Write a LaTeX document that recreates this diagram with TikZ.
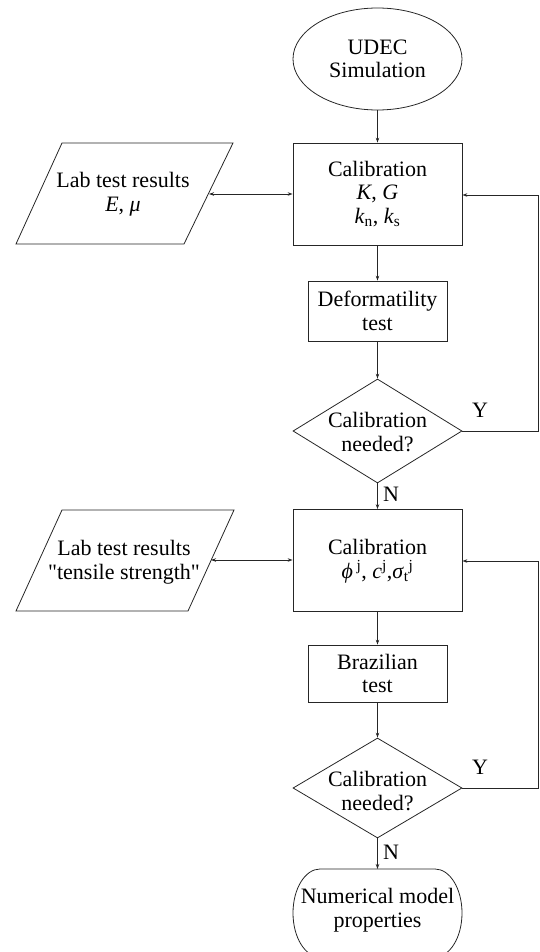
\documentclass[tikz,border=0pt]{standalone}
\usepackage{fontspec}
\setmainfont{Liberation Serif}
\usetikzlibrary{shapes.geometric,arrows.meta}
\begin{document}
\begin{tikzpicture}[x=1pt,y=-1pt,
  every node/.style={font=\fontsize{22}{23.5}\selectfont, align=center, inner sep=0pt},
  line/.style={line width=0.8pt, draw=black!85},
  arr/.style={line, -{Stealth[length=5pt,width=3.5pt]}},
  darr/.style={line, {Stealth[length=5pt,width=3.5pt]}-{Stealth[length=5pt,width=3.5pt]}},
  bigbox/.style={line, rectangle, minimum width=169pt, minimum height=102pt},
  smallbox/.style={line, rectangle, minimum width=139pt, minimum height=60pt},
  decision/.style={line, diamond, minimum width=169pt, minimum height=104pt},
  startnode/.style={line, ellipse, minimum width=169pt, minimum height=102pt},
  lbl/.style={font=\fontsize{22}{23.5}\selectfont}
]
\useasboundingbox (0,0) rectangle (539,952);

% start
\node[startnode] (start) at (377.5,59) {UDEC\\Simulation};

% calibration 1
\node[bigbox] (cal1) at (377.5,194) {Calibration\\\textit{K}, \textit{G}\\\textit{k}\textsubscript{n}, \textit{k}\textsubscript{s}};

% lab 1 parallelogram
\draw[line] (62,143) -- (233,143) -- (184,244) -- (16,244) -- cycle;
\coordinate (lab1r) at (209,194);
\node (lab1) at (123,194) {Lab test results\\\textit{E}, \textit{μ}};

% deformability
\node[smallbox] (def) at (377.5,311) {Deformatility\\test};

% decision 1
\node[decision] (dia1) at (377.5,431) {};
\node at (377.5,432) {Calibration\\needed?};
\coordinate (r1a) at (538,431);
\coordinate (r1b) at (538,195);

% calibration 2
\node[bigbox] (cal2) at (377.5,560.5) {};
\node (cal2t) at (377.5,561) {Calibration\\\textit{ϕ}\,\textsuperscript{j}, \textit{c}\textsuperscript{j},\textit{σ}\textsubscript{t}\textsuperscript{j}};

% lab 2 parallelogram
\draw[line] (62,510) -- (234,510) -- (188,611) -- (16,611) -- cycle;
\coordinate (lab2r) at (211,560);
\node (lab2) at (124,562) {Lab test results\\\textquotedbl tensile strength\textquotedbl};

% brazilian
\node[smallbox, minimum height=57pt] (braz) at (377.5,673.5) {Brazilian\\test};

% decision 2
\node[decision, minimum height=100pt] (dia2) at (377.5,788) {};
\node at (377.5,791) {Calibration\\needed?};
\coordinate (r2a) at (538,788);
\coordinate (r2b) at (538,561);

% terminal
\draw[line] (320,869) -- (435,869) arc[start angle=-90,end angle=90,x radius=27,y radius=44]
  -- (320,957) arc[start angle=90,end angle=270,x radius=27,y radius=44] -- cycle;
\coordinate (termtop) at (377.5,869);
\node (term) at (377.5,910) {Numerical model\\properties};

% connectors
\draw[arr] (start) -- (cal1);
\draw[darr] (lab1r) -- (cal1.west |- lab1r);
\draw[arr] (cal1) -- (def);
\draw[arr] (def) -- (dia1);
\draw[arr] (dia1.east) -- (r1a) -- (r1b) -- (cal1.east |- r1b);
\draw[arr] (dia1) -- (cal2);
\draw[darr] (lab2r) -- (cal2.west |- lab2r);
\draw[arr] (cal2) -- (braz);
\draw[arr] (braz) -- (dia2);
\draw[arr] (dia2.east) -- (r2a) -- (r2b) -- (cal2.east |- r2b);
\draw[arr] (dia2.south) -- (termtop);

% labels
\node[lbl] (y1) at (480,410) {Y};
\node[lbl] (n1) at (391,494) {N};
\node[lbl] (y2) at (480,767) {Y};
\node[lbl] (n2) at (391,852) {N};
\end{tikzpicture}
\end{document}
